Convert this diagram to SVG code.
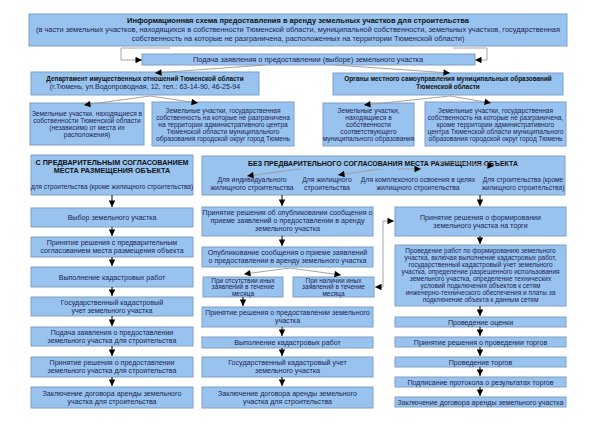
<svg xmlns="http://www.w3.org/2000/svg" width="600" height="424" viewBox="0 0 600 424">
<defs>
<marker id="ah" viewBox="0 0 10 10" refX="10" refY="5" markerWidth="8" markerHeight="6.5" markerUnits="userSpaceOnUse" orient="auto">
<path d="M0,0 L10,5 L0,10 z" fill="#000"/>
</marker>
</defs>
<style>
.b{fill:#99c3ef;stroke:#7f9fc4;stroke-width:1}
text{font-family:"Liberation Sans",Arial,sans-serif;fill:#1b2350;text-anchor:middle;font-size:7.1px}
.h{font-weight:bold;fill:#111;font-size:7px}
.t{font-size:7.4px}
.s{font-size:6.6px}
.r{font-size:6.5px}
.xs{font-size:6.5px}
.c{fill:none;stroke:#9a9a9a;stroke-width:0.9;marker-end:url(#ah)}
.d{fill:none;stroke:#000;stroke-width:1;marker-end:url(#ah)}
</style>
<rect width="600" height="424" fill="#fff"/>

<g id="title">
<rect class="b" x="29" y="14" width="538" height="32"/>
<text class="h" x="298" y="23" style="font-size:7.5px">Информационная схема предоставления в аренду земельных участков для строительства</text>
<text class="t" x="298" y="32">(в части земельных участков, находящихся в собственности Тюменской области, муниципальной собственности, земельных участков, государственная</text>
<text class="t" x="298" y="41">собственность на которые не разграничена, расположенных на территории Тюменской области)</text>
</g>

<g id="podacha">
<rect class="b" x="142" y="54" width="333" height="11"/>
<text class="t" x="308" y="62.2">Подача заявления о предоставлении (выборе) земельного участка</text>
</g>

<g id="dept">
<rect class="b" x="31" y="72" width="228" height="23"/>
<text class="h" x="145" y="80.5" style="font-size:6.4px">Департамент имущественных отношений Тюменской области</text>
<text x="145" y="89">(г.Тюмень, ул.Водопроводная, 12, тел.: 63-14-90, 46-25-94</text>
</g>

<g id="organs">
<rect class="b" x="333" y="73" width="230" height="22"/>
<text class="h" x="448" y="81" style="font-size:6.4px">Органы местного самоуправления муниципальных образований</text>
<text class="h" x="448" y="89" style="font-size:6.4px">Тюменской области</text>
</g>

<g id="dept-l">
<rect class="b" x="30" y="103" width="114" height="42"/>
<text class="s" x="87" y="116">Земельные участки, находящиеся в</text>
<text class="s" x="87" y="123">собственности Тюменской области</text>
<text class="s" x="87" y="130">(независимо от места их</text>
<text class="s" x="87" y="137">расположения)</text>
</g>

<g id="dept-r">
<rect class="b" x="152" y="102" width="142" height="44"/>
<text class="s" x="223" y="113">Земельные участки, государственная</text>
<text class="s" x="223" y="120">собственность на которые не  разграничена</text>
<text class="s" x="223" y="127">на территории административного центра</text>
<text class="s" x="223" y="134">Тюменской области муниципального</text>
<text class="s" x="223" y="141">образования городской округ город Тюмень</text>
</g>

<g id="org-l">
<rect class="b" x="323" y="103" width="91" height="43"/>
<text class="s" x="368.5" y="113">Земельные участки,</text>
<text class="s" x="368.5" y="120">находящиеся в</text>
<text class="s" x="368.5" y="127">собственности</text>
<text class="s" x="368.5" y="134">соответствующего</text>
<text class="s" x="368.5" y="141">муниципального образования</text>
</g>

<g id="org-r">
<rect class="b" x="425" y="102" width="141" height="44"/>
<text class="s" x="495.5" y="113">Земельные участки, государственная</text>
<text class="s" x="495.5" y="120">собственность на которые не разграничена,</text>
<text class="s" x="495.5" y="127">кроме территории административного</text>
<text class="s" x="495.5" y="134">центра Тюменской области муниципального</text>
<text class="s" x="495.5" y="141">образования городской округ город Тюмень</text>
</g>

<g id="l0">
<rect class="b" x="31" y="155" width="162" height="40"/>
<text class="h" x="112" y="165" style="font-size:7.2px">С ПРЕДВАРИТЕЛЬНЫМ СОГЛАСОВАНИЕМ</text>
<text class="h" x="112" y="173" style="font-size:7.2px">МЕСТА РАЗМЕЩЕНИЯ ОБЪЕКТА</text>
<text x="112" y="189" style="font-size:6.5px">для строительства (кроме жилищного строительства)</text>
</g>
<g id="l1"><rect class="b" x="31" y="208" width="162" height="19"/><text x="112" y="219.5">Выбор земельного участка</text></g>
<g id="l2"><rect class="b" x="31" y="237" width="162" height="20"/><text x="112" y="245">Принятие решения с предварительным</text><text x="112" y="253">согласованием места размещения объекта</text></g>
<g id="l3"><rect class="b" x="31" y="267" width="162" height="20"/><text x="112" y="279.5">Выполнение кадастровых работ</text></g>
<g id="l4"><rect class="b" x="31" y="297" width="162" height="19"/><text x="112" y="305">Государственный кадастровый</text><text x="112" y="313">учет земельного участка</text></g>
<g id="l5"><rect class="b" x="31" y="327" width="162" height="19"/><text x="112" y="335">Подача заявления о предоставлении</text><text x="112" y="343">земельного участка для строительства</text></g>
<g id="l6"><rect class="b" x="31" y="357" width="162" height="20"/><text x="112" y="365">Принятие решения о предоставлении</text><text x="112" y="373">земельного участка для строительства</text></g>
<g id="l7"><rect class="b" x="31" y="387" width="162" height="21"/><text x="112" y="396">Заключение договора аренды земельного</text><text x="112" y="404">участка для строительства</text></g>

<g id="bez">
<rect class="b" x="202" y="156" width="363" height="39"/>
<text class="h" x="383" y="166">БЕЗ ПРЕДВАРИТЕЛЬНОГО СОГЛАСОВАНИЯ МЕСТА РАЗМЕЩЕНИЯ ОБЪЕКТА</text>
<text x="252" y="181.5" style="font-size:6.8px">Для индивидуального</text>
<text x="252" y="189.5" style="font-size:6.8px">жилищного строительства</text>
<text x="327" y="181.5" style="font-size:6.8px">Для жилищного</text>
<text x="327" y="189.5" style="font-size:6.8px">строительства</text>
<text x="418" y="181.5" style="font-size:6.8px">Для комплексного освоения в целях</text>
<text x="418" y="189.5" style="font-size:6.8px">жилищного строительства</text>
<text x="523" y="181.5" style="font-size:6.6px">Для строительства (кроме</text>
<text x="523" y="189.5" style="font-size:6.6px">жилищного строительства)</text>
</g>

<g id="m1"><rect class="b" x="202" y="207" width="171" height="29"/><text x="287.5" y="215">Принятие решения об опубликовании сообщения о</text><text x="287.5" y="223">приеме заявлений о предоставлении в аренду</text><text x="287.5" y="231">земельного участка</text></g>
<g id="m2"><rect class="b" x="202" y="247" width="171" height="20"/><text x="287.5" y="255">Опубликование сообщения о приеме заявлений</text><text x="287.5" y="263">о предоставлении в аренду земельного участка</text></g>
<g id="ma"><rect class="b" x="203" y="277" width="80" height="20"/><text class="xs" x="243" y="282.5">При отсутствии иных</text><text class="xs" x="243" y="289">заявлений в течение</text><text class="xs" x="243" y="295.5">месяца</text></g>
<g id="mb"><rect class="b" x="293" y="277" width="81" height="20"/><text class="xs" x="333.5" y="282.5">При наличии иных</text><text class="xs" x="333.5" y="289">заявлений в течение</text><text class="xs" x="333.5" y="295.5">месяца</text></g>
<g id="m3"><rect class="b" x="202" y="307" width="171" height="20"/><text x="287.5" y="315">Принятие решения о предоставлении земельного</text><text x="287.5" y="323">участка</text></g>
<g id="m4"><rect class="b" x="202" y="337" width="171" height="11"/><text x="287.5" y="345">Выполнение кадастровых работ</text></g>
<g id="m5"><rect class="b" x="202" y="357" width="171" height="20"/><text x="287.5" y="365">Государственный кадастровый учет</text><text x="287.5" y="373">земельного участка</text></g>
<g id="m6"><rect class="b" x="202" y="387" width="171" height="21"/><text x="287.5" y="396">Заключение договора аренды земельного</text><text x="287.5" y="404">участка для строительства</text></g>

<g id="r1"><rect class="b" x="395" y="207" width="171" height="29"/><text x="480.5" y="220">Принятие решения о формировании</text><text x="480.5" y="228">земельного участка на торги</text></g>
<g id="r2"><rect class="b" x="395" y="245" width="171" height="61"/>
<text class="r" x="480.5" y="253">Проведение работ по формированию земельного</text>
<text class="r" x="480.5" y="260">участка, включая выполнение кадастровых работ,</text>
<text class="r" x="480.5" y="267">государственный кадастровый учет земельного</text>
<text class="r" x="480.5" y="274">участка, определение разрешенного использования</text>
<text class="r" x="480.5" y="281">земельного участка, определение технических</text>
<text class="r" x="480.5" y="288">условий подключения объектов к сетям</text>
<text class="r" x="480.5" y="295">инженерно-технического обеспечения и платы за</text>
<text class="r" x="480.5" y="302">подключение объекта к данным сетям</text>
</g>
<g id="r3"><rect class="b" x="395" y="317" width="171" height="10"/><text x="480.5" y="324.5">Проведение оценки</text></g>
<g id="r4"><rect class="b" x="395" y="337" width="171" height="10"/><text x="480.5" y="344.5">Принятие решения о проведении торгов</text></g>
<g id="r5"><rect class="b" x="395" y="357" width="171" height="10"/><text x="480.5" y="364.5">Проведение торгов</text></g>
<g id="r6"><rect class="b" x="395" y="377" width="171" height="10"/><text x="480.5" y="384.5">Подписание протокола о результатах торгов</text></g>
<g id="r7"><rect class="b" x="395" y="397" width="171" height="10"/><text x="480.5" y="404.5">Заключение договора аренды земельного участка</text></g>

<g id="connectors">
<polyline class="c" points="170,48 121,48 121,60 142,60"/>
<polyline class="c" points="453,48 487,48 487,60 475,60"/>
<line class="c" x1="265" y1="65" x2="155" y2="73"/>
<line class="c" x1="335" y1="65" x2="450" y2="73"/>
<line class="c" x1="150" y1="96" x2="84" y2="105"/>
<line class="c" x1="150" y1="96" x2="198" y2="103"/>
<line class="c" x1="450" y1="96" x2="364" y2="105"/>
<line class="c" x1="450" y1="96" x2="491" y2="103"/>
<line class="c" x1="300" y1="169" x2="247" y2="176"/>
<line class="c" x1="380" y1="169" x2="338" y2="175"/>
<line class="c" x1="398" y1="169" x2="421" y2="169"/>
<line class="c" x1="435" y1="161" x2="494" y2="166"/>
<line class="d" x1="112" y1="195" x2="112" y2="207"/>
<line class="d" x1="112" y1="227" x2="112" y2="236"/>
<line class="d" x1="112" y1="257" x2="112" y2="266"/>
<line class="d" x1="112" y1="287" x2="112" y2="296"/>
<line class="d" x1="112" y1="316" x2="112" y2="326"/>
<line class="d" x1="112" y1="346" x2="112" y2="356"/>
<line class="d" x1="112" y1="377" x2="112" y2="386"/>
<line class="d" x1="282" y1="195" x2="282" y2="206"/>
<line class="d" x1="282" y1="236" x2="282" y2="246"/>
<line class="c" x1="290" y1="268" x2="244" y2="274"/>
<line class="c" x1="290" y1="268" x2="341" y2="275"/>
<line class="d" x1="243" y1="297" x2="243" y2="306"/>
<line class="d" x1="282" y1="327" x2="282" y2="336"/>
<line class="d" x1="282" y1="348" x2="282" y2="356"/>
<line class="d" x1="282" y1="377" x2="282" y2="386"/>
<polyline class="c" points="383,287 383,221 394,221"/>
<line class="c" x1="383" y1="287" x2="375" y2="287"/>
<line class="d" x1="480" y1="195" x2="480" y2="206"/>
<line class="d" x1="480" y1="236" x2="480" y2="244"/>
<line class="d" x1="480" y1="306" x2="480" y2="316"/>
<line class="d" x1="480" y1="327" x2="480" y2="336"/>
<line class="d" x1="480" y1="347" x2="480" y2="356"/>
<line class="d" x1="480" y1="367" x2="480" y2="376"/>
<line class="d" x1="480" y1="387" x2="480" y2="396"/>
</g>
</svg>
